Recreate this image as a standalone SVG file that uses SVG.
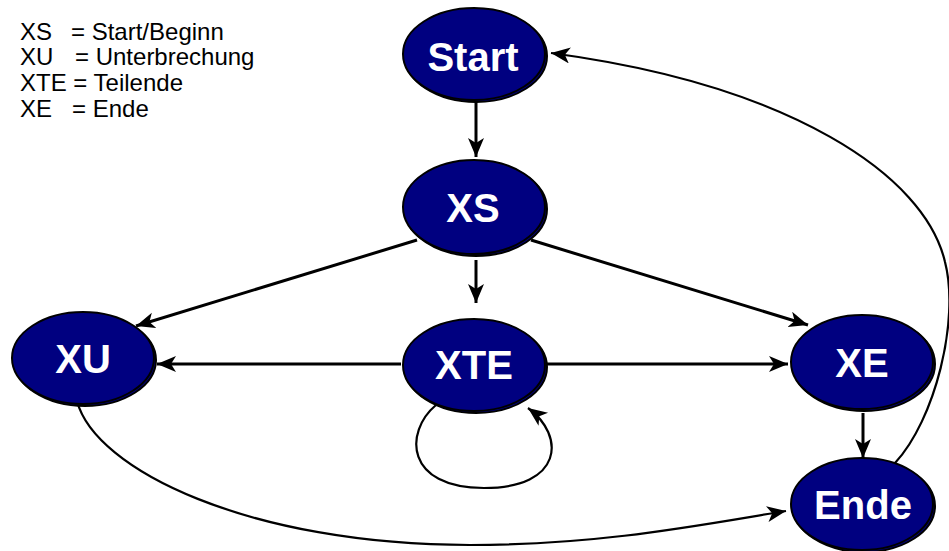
<svg xmlns="http://www.w3.org/2000/svg" width="949" height="551" viewBox="0 0 949 551">
  <style>
    .legend { font-family: "Liberation Sans", Arial, sans-serif; font-size: 24px; fill: #000; }
    .shadow { fill: #000080; stroke: #000; stroke-width: 2; }
    .node { fill: #000080; stroke: #000; stroke-width: 2; }
    .label { font-family: "Liberation Sans", Arial, sans-serif; font-size: 40px; font-weight: bold; fill: #fff; text-anchor: middle; }
    .edge { fill: none; stroke: #000; stroke-width: 3; }
    .curve { fill: none; stroke: #000; stroke-width: 2.2; }
  </style>
  <defs>
    <marker id="arrow" markerUnits="userSpaceOnUse" markerWidth="22" markerHeight="18" refX="19" refY="8" orient="auto">
      <path d="M19,8 L0,0 L5,8 L0,16 Z" fill="#000"/>
    </marker>
  </defs>
  <rect width="949" height="551" fill="#fff"/>

  <g id="legend">
    <text class="legend" x="20" y="40">XS<tspan x="71">= Start/Beginn</tspan></text>
    <text class="legend" x="20" y="65">XU<tspan x="75">= Unterbrechung</tspan></text>
    <text class="legend" x="20" y="91">XTE = Teilende</text>
    <text class="legend" x="20" y="117">XE<tspan x="72">= Ende</tspan></text>
  </g>

  <g id="connectors">
    <line class="edge" x1="476" y1="102" x2="476" y2="157" marker-end="url(#arrow)"/>
    <line class="edge" x1="476" y1="260" x2="476" y2="303" marker-end="url(#arrow)"/>
    <line class="edge" x1="417" y1="240" x2="136" y2="326" marker-end="url(#arrow)"/>
    <line class="edge" x1="531" y1="240" x2="808" y2="325" marker-end="url(#arrow)"/>
    <line class="edge" x1="401" y1="364" x2="157" y2="364" marker-end="url(#arrow)"/>
    <line class="edge" x1="547" y1="364" x2="788" y2="364" marker-end="url(#arrow)"/>
    <line class="edge" x1="863" y1="413" x2="863" y2="458" marker-end="url(#arrow)"/>
    <path class="curve" d="M436,405 C404,432 405,488 484,488 C563,488 566,436 528,408" marker-end="url(#arrow)"/>
    <path class="curve" d="M77,401 C95,470 250,545 470,545 C600,545 700,525 786,511" marker-end="url(#arrow)"/>
    <path class="curve" d="M895,463 C935,420 960,320 945,262 C925,175 790,85 551,53" marker-end="url(#arrow)"/>
  </g>

  <g id="node-start">
    <ellipse class="shadow" cx="476" cy="56" rx="71" ry="46"/>
    <ellipse class="node" cx="474" cy="54" rx="71" ry="46"/>
    <text class="label" x="473" y="71">Start</text>
  </g>
  <g id="node-xs">
    <ellipse class="shadow" cx="476" cy="209" rx="71" ry="47"/>
    <ellipse class="node" cx="474" cy="207" rx="71" ry="47"/>
    <text class="label" x="473" y="222">XS</text>
  </g>
  <g id="node-xu">
    <ellipse class="shadow" cx="85" cy="360" rx="71" ry="46"/>
    <ellipse class="node" cx="83" cy="358" rx="71" ry="46"/>
    <text class="label" x="83" y="373">XU</text>
  </g>
  <g id="node-xte">
    <ellipse class="shadow" cx="476" cy="367" rx="71" ry="46"/>
    <ellipse class="node" cx="474" cy="365" rx="71" ry="46"/>
    <text class="label" x="474" y="379">XTE</text>
  </g>
  <g id="node-xe">
    <ellipse class="shadow" cx="864" cy="364" rx="71" ry="47"/>
    <ellipse class="node" cx="862" cy="362" rx="71" ry="47"/>
    <text class="label" x="862" y="377">XE</text>
  </g>
  <g id="node-ende">
    <ellipse class="shadow" cx="864" cy="506" rx="71" ry="46"/>
    <ellipse class="node" cx="862" cy="504" rx="71" ry="46"/>
    <text class="label" x="863" y="519">Ende</text>
  </g>
</svg>
